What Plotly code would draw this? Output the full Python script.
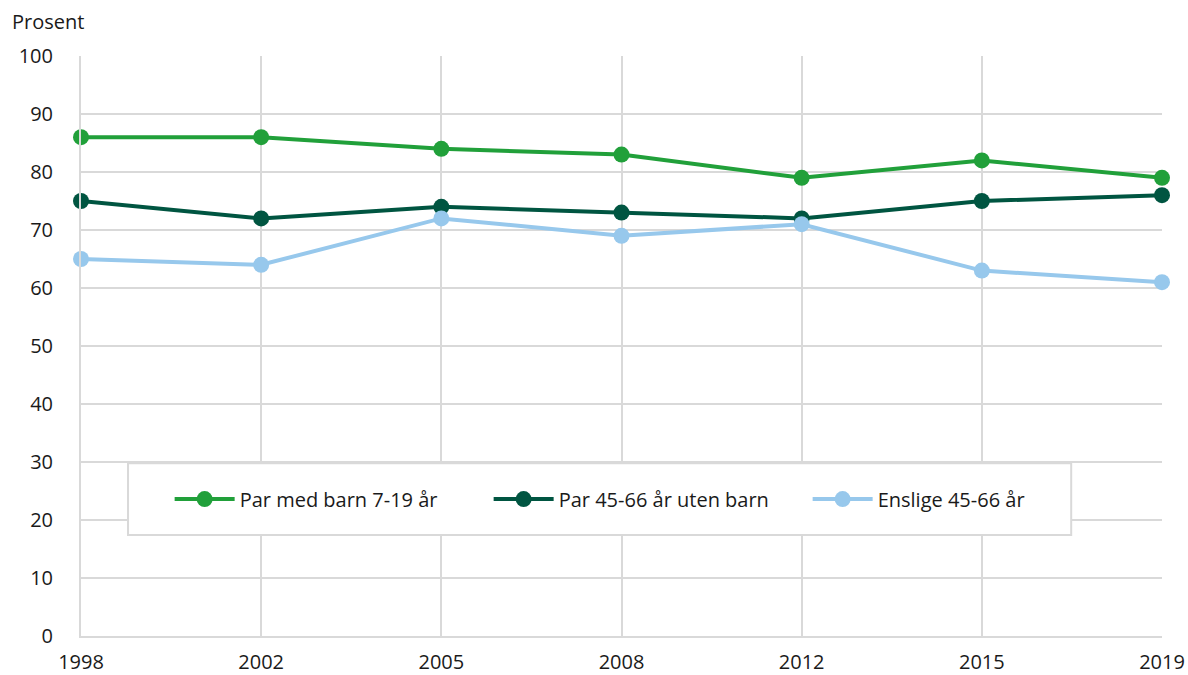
import plotly.graph_objects as go

years = ["1998", "2002", "2005", "2008", "2012", "2015", "2019"]
par_med_barn = [86, 86, 84, 83, 79, 82, 79]
par_uten_barn = [75, 72, 74, 73, 72, 75, 76]
enslige = [65, 64, 72, 69, 71, 63, 61]

series = [
    ("Par med barn 7-19 år", par_med_barn, "#21a03a"),
    ("Par 45-66 år uten barn", par_uten_barn, "#005541"),
    ("Enslige 45-66 år", enslige, "#97c8ec"),
]

fig = go.Figure()
for name, vals, col in series:
    fig.add_trace(go.Scatter(
        x=years, y=vals, name=name, mode="lines+markers",
        line=dict(color=col, width=4), marker=dict(color=col, size=16),
        cliponaxis=False,
    ))

grid = "#d9d9d9"
fig.update_layout(
    width=1188, height=675,
    margin=dict(l=81, r=26, t=56, b=39),
    plot_bgcolor="white", paper_bgcolor="white",
    font=dict(family="Open Sans", size=20, color="#1a1a1a"),
    xaxis=dict(type="category", range=[0, 6], showgrid=True, gridcolor=grid, gridwidth=2,
               showline=True, linecolor=grid, linewidth=2, ticks="", ticklabelstandoff=7,
               zeroline=False, automargin=False),
    yaxis=dict(range=[0, 100], dtick=10, showgrid=True, gridcolor=grid, gridwidth=2,
               showline=True, linecolor=grid, linewidth=2, ticks="", ticklabelstandoff=22,
               zeroline=False, automargin=False),
    legend=dict(orientation="h", x=0.082, xanchor="left", y=0.236, yanchor="middle",
                bgcolor="rgba(0,0,0,0)", font=dict(size=20), entrywidth=244,
                entrywidthmode="pixels", itemwidth=60),
    shapes=[dict(type="rect", xref="paper", yref="paper", x0=0.0435, x1=0.916,
                 y0=0.174, y1=0.298, fillcolor="white", line=dict(color=grid, width=2),
                 layer="above")],
    annotations=[dict(text="Prosent", xref="paper", yref="paper", x=-0.066, y=1.059,
                      xanchor="left", yanchor="middle", showarrow=False, font=dict(size=20))],
)

# page body has a default margin; drop it so the figure fills the window
fig.write_html("out.html", config={"displayModeBar": False},
               post_script="document.body.style.margin='0';")
